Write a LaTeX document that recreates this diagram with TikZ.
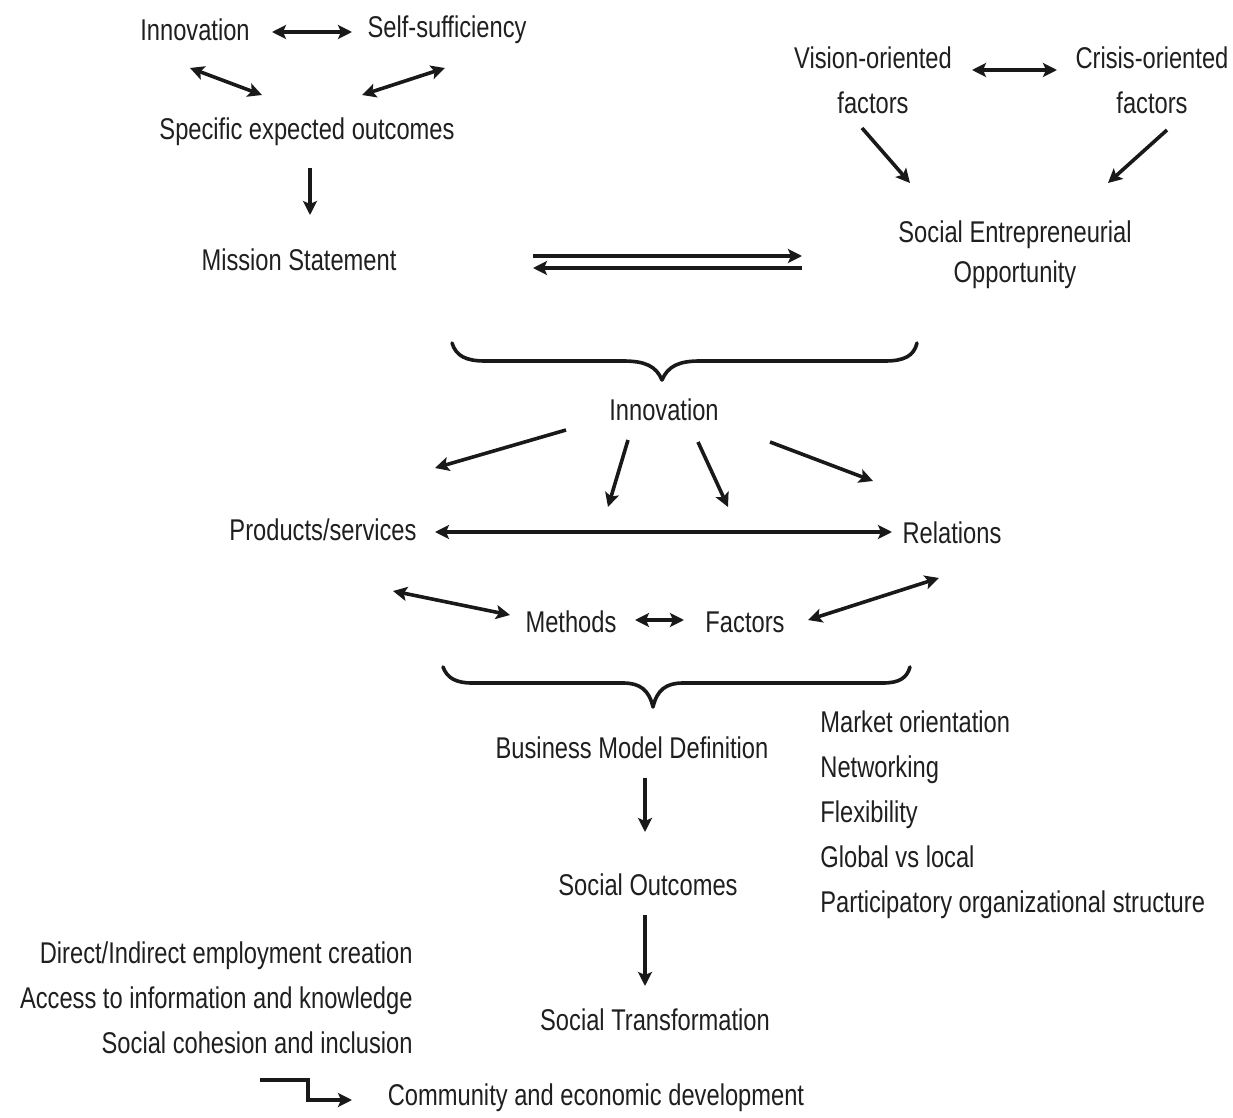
\documentclass[tikz,border=0pt]{standalone}
\usepackage{fontspec}
\setmainfont{Liberation Sans}[FakeStretch=0.79]
\usetikzlibrary{arrows.meta}
\begin{document}
\begin{tikzpicture}[x=0.5pt,y=-0.5pt,
  lbl/.style={inner sep=0pt, text=black!88, font=\fontsize{15}{22.5}\selectfont},
  arr/.style={line width=1.8pt, draw=black!90, -{Stealth[length=7pt,width=7pt,inset=1.5pt]}},
  darr/.style={line width=1.8pt, draw=black!90, {Stealth[length=7pt,width=7pt,inset=1.5pt]}-{Stealth[length=7pt,width=7pt,inset=1.5pt]}},
  bracepath/.style={line width=1.8pt, draw=black!90, line join=round, line cap=round}]
\useasboundingbox (0,0) rectangle (1233,1118);

% ---------- nodes ----------
\node[lbl] (inn1) at (195,30) {Innovation};
\node[lbl] (self) at (447,30) {Self-sufficiency};
\node[lbl] (spec) at (307,132) {Specific expected outcomes};
\node[lbl] (ms) at (299,260) {Mission Statement};
\node[lbl,align=center] (vis) at (873,80) {Vision-oriented\\factors};
\node[lbl,align=center] (cri) at (1152,80) {Crisis-oriented\\factors};
\node[lbl,align=center,font=\fontsize{15}{20}\selectfont] (seo) at (1015,255) {Social Entrepreneurial\\Opportunity};
\node[lbl] (inn2) at (664,410) {Innovation};
\node[lbl] (ps) at (323,530) {Products/services};
\node[lbl] (rel) at (952,533) {Relations};
\node[lbl] (meth) at (571,622) {Methods};
\node[lbl] (fac) at (745,622) {Factors};
\node[lbl] (bmd) at (632,748) {Business Model Definition};
\node[lbl,align=left,anchor=west] (mkt) at (820,815) {Market orientation\\Networking\\Flexibility\\Global vs local\\Participatory organizational structure};
\node[lbl] (so) at (648,885) {Social Outcomes};
\node[lbl] (st) at (655,1020) {Social Transformation};
\node[lbl,align=right,anchor=east] (imp) at (413,998) {Direct/Indirect employment creation\\Access to information and knowledge\\Social cohesion and inclusion};
\node[lbl] (cd) at (596,1098) {Community and economic development};

% ---------- connector end points ----------
\coordinate (innA) at (272,32);   \coordinate (selfA) at (352,32);
\coordinate (innB) at (190,68);   \coordinate (specA) at (262,95);
\coordinate (selfB) at (445,68);  \coordinate (specB) at (362,95);
\coordinate (specC) at (310,168); \coordinate (msA) at (310,215);
\coordinate (msB) at (533,256);   \coordinate (seoA) at (802,256);
\coordinate (seoB) at (802,268);  \coordinate (msC) at (533,268);
\coordinate (visA) at (972,70);   \coordinate (criA) at (1057,70);
\coordinate (visB) at (862,128);  \coordinate (seoC) at (910,183);
\coordinate (criB) at (1167,130); \coordinate (seoD) at (1108,183);
\coordinate (inn2A) at (566,430); \coordinate (psA) at (435,468);
\coordinate (inn2B) at (628,440); \coordinate (methA) at (608,507);
\coordinate (inn2C) at (698,442); \coordinate (facA) at (728,507);
\coordinate (inn2D) at (770,442); \coordinate (relA) at (873,481);
\coordinate (psB) at (435,532);   \coordinate (relB) at (892,532);
\coordinate (psC) at (393,591);   \coordinate (methB) at (510,615);
\coordinate (methC) at (635,620); \coordinate (facB) at (684,620);
\coordinate (facC) at (808,620);  \coordinate (relC) at (939,578);
\coordinate (bmdA) at (645,778);  \coordinate (soA) at (645,832);
\coordinate (soB) at (645,915);   \coordinate (stA) at (645,986);
\coordinate (impA) at (260,1080); \coordinate (cdA) at (352,1100);

% ---------- connectors ----------
\draw[darr] (innA) -- (selfA);
\draw[darr] (innB) -- (specA);
\draw[darr] (selfB) -- (specB);
\draw[arr] (specC) -- (msA);
\draw[arr, line width=1.6pt] (msB) -- (seoA);
\draw[arr, line width=1.6pt] (seoB) -- (msC);
\draw[darr] (visA) -- (criA);
\draw[arr] (visB) -- (seoC);
\draw[arr] (criB) -- (seoD);
\draw[arr] (inn2A) -- (psA);
\draw[arr] (inn2B) -- (methA);
\draw[arr] (inn2C) -- (facA);
\draw[arr] (inn2D) -- (relA);
\draw[darr] (psB) -- (relB);
\draw[darr] (psC) -- (methB);
\draw[darr] (methC) -- (facB);
\draw[darr] (facC) -- (relC);
\draw[arr] (bmdA) -- (soA);
\draw[arr] (soB) -- (stA);
\draw[arr] (impA) -- (308,1080) -- (308,1100) -- (cdA);

% ---------- braces ----------
\draw[bracepath] (452,343) .. controls (456,356) and (466,361) .. (485,361)
  -- (623,361) .. controls (645,361) and (656,366) .. (662,380)
  .. controls (668,366) and (679,361) .. (700,361)
  -- (885,361) .. controls (904,361) and (914,356) .. (917,343);
\draw[bracepath] (443,667) .. controls (447,678) and (456,683) .. (472,683)
  -- (623,683) .. controls (640,683) and (649,690) .. (653,707)
  .. controls (657,690) and (666,683) .. (683,683)
  -- (883,683) .. controls (899,683) and (907,678) .. (910,667);
\end{tikzpicture}
\end{document}
